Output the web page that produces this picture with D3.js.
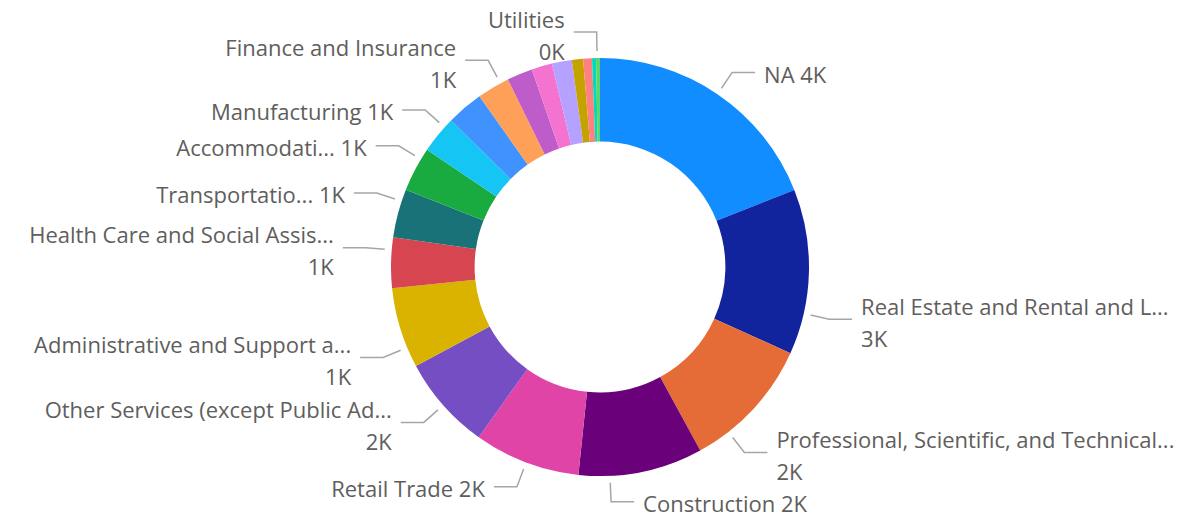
<!DOCTYPE html>
<html>
<head>
<meta charset="utf-8">
<script src="https://cdn.jsdelivr.net/npm/d3@7"></script>
<style>
  html, body { margin: 0; padding: 0; background: #fff; }
  #d3 { width: 1193px; height: 517px; }
  .label { font-family: "Segoe UI", "Open Sans", sans-serif; font-size: 22px; fill: #605E5C; }
</style>
</head>
<body>
<div id="d3"></div>
<script>
// slices, in the order they run clockwise from 12 o'clock
const categories = [
  'NA',
  'Real Estate and Rental and Leasing',
  'Professional, Scientific, and Technical Services',
  'Construction',
  'Retail Trade',
  'Other Services (except Public Administration)',
  'Administrative and Support and Waste Management and Remediation Services',
  'Health Care and Social Assistance',
  'Transportation and Warehousing',
  'Accommodation and Food Services',
  'Manufacturing',
  'Wholesale Trade',
  'Finance and Insurance',
  'Information',
  'Educational Services',
  'Arts, Entertainment, and Recreation',
  'Agriculture, Forestry, Fishing and Hunting',
  'Mining, Quarrying, and Oil and Gas Extraction',
  'Management of Companies and Enterprises',
  'Utilities'
];

const values = [4180, 2810, 2260, 2115, 1805, 1605, 1370, 860, 825, 760, 635, 625, 555, 435, 350, 340, 190, 150, 68, 66];

const colors = [
  '#118DFF', '#12239E', '#E66C37', '#6B007B', '#E044A7', '#744EC2', '#D9B300', '#D64550', '#197278', '#1AAB40',
  '#15C6F4', '#4092FF', '#FFA058', '#BE5DC9', '#F472D0', '#B5A1FF', '#C4A200', '#FF8080', '#00DBBC', '#5BD667'
];

// data label text as shown (truncated), '' = no label drawn
const labelNames = [
  'NA',
  'Real Estate and Rental and L...',
  'Professional, Scientific, and Technical...',
  'Construction',
  'Retail Trade',
  'Other Services (except Public Ad...',
  'Administrative and Support a...',
  'Health Care and Social Assis...',
  'Transportatio...',
  'Accommodati...',
  'Manufacturing',
  '',
  'Finance and Insurance',
  '', '', '', '', '', '',
  'Utilities'
];

// value on a second line?
const labelWrap = [false, true, true, false, false, true, true, true, false, false, false, false, true, false, false, false, false, false, false, true];

// where along its slice the leader line leaves (0 = start, 1 = end)
const labelAnchor = [0.5, 0.75, 0.75, 0.75, 0.5, 0.5, 0.25, 0.75, 0.75, 0.75, 0.75, 0.5, 0.75, 0.5, 0.5, 0.5, 0.5, 0.5, 0.5, 0.25];

const width = 1193;
const height = 517;
const cx = 600;
const cy = 267;
const outerRadius = 209;
const innerRadius = outerRadius * 0.6;
const lineStart = outerRadius + 7;
const lineElbow = outerRadius + 26;
const lineTail = 23;
const textGap = 9;

const data = categories.map((name, i) => ({
  name,
  value: values[i],
  color: colors[i],
  label: labelNames[i],
  wrap: labelWrap[i],
  anchor: labelAnchor[i]
}));

const pie = d3.pie().sort(null).value(d => d.value);
const arc = d3.arc().innerRadius(innerRadius).outerRadius(outerRadius);
const fmt = v => `${Math.round(v / 1000)}K`;
const polar = (a, r) => [r * Math.sin(a), -r * Math.cos(a)];

const svg = d3.select('#d3')
  .append('svg')
  .attr('width', width)
  .attr('height', height);

const g = svg.append('g').attr('transform', `translate(${cx},${cy})`);

const arcs = pie(data);

g.selectAll('path.slice')
  .data(arcs)
  .enter()
  .append('path')
  .attr('class', 'slice')
  .attr('d', arc)
  .attr('fill', d => d.data.color);

const labelled = arcs.filter(d => d.data.label);

labelled.forEach((d) => {
  const a = d.startAngle + d.data.anchor * (d.endAngle - d.startAngle);
  const left = a > Math.PI;
  const p0 = polar(a, lineStart);
  const p1 = polar(a, lineElbow);
  const p2 = [p1[0] + (left ? -lineTail : lineTail), p1[1]];
  d.points = [p0, p1, p2];
  d.left = left;
  d.tx = p2[0] + (left ? -textGap : textGap);
  d.ty = p1[1];
});

g.selectAll('path.leader')
  .data(labelled)
  .enter()
  .append('path')
  .attr('class', 'leader')
  .attr('d', d => d3.line()(d.points))
  .attr('fill', 'none')
  .attr('stroke', '#A6A6A6')
  .attr('stroke-width', 1.5);

const texts = g.selectAll('text.label')
  .data(labelled)
  .enter()
  .append('text')
  .attr('class', 'label')
  .attr('text-anchor', d => (d.left ? 'end' : 'start'));

texts.each(function (d) {
  const t = d3.select(this);
  if (d.data.wrap) {
    t.append('tspan').attr('x', d.tx).attr('y', d.ty - 4.5).text(d.data.label);
    t.append('tspan').attr('x', d.tx).attr('y', d.ty + 27.5).text(fmt(d.data.value));
  } else {
    t.append('tspan').attr('x', d.tx).attr('y', d.ty + 10).text(`${d.data.label} ${fmt(d.data.value)}`);
  }
});
</script>
</body>
</html>
